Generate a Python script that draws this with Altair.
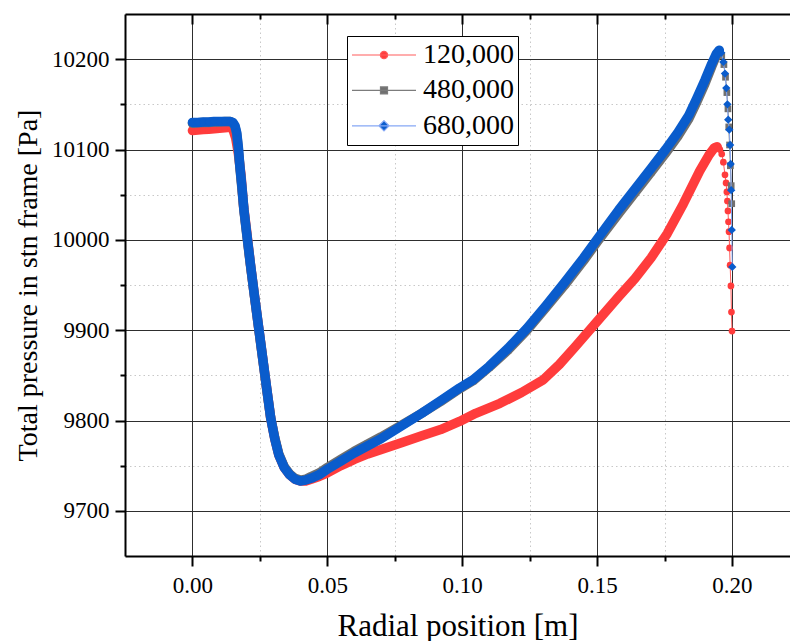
import altair as alt
import pandas as pd

# Series labels and styling
SERIES = ["120,000", "480,000", "680,000"]
MARKER_COLORS = ["#ff3c3c", "#707070", "#0a5ccc"]
LINE_COLORS = ["#ff5c5c", "#7c7c7c", "#86a8f5"]
MARKER_SHAPES = ["circle", "square", "diamond"]
MARKER_SIZES = [45, 45, 70]

# Axis tick values
X_MAJOR = [0.0, 0.05, 0.10, 0.15, 0.20]
X_MINOR = [0.025, 0.075, 0.125, 0.175]
Y_MAJOR = [9700, 9800, 9900, 10000, 10100, 10200]
Y_MINOR = [9750, 9850, 9950, 10050, 10150]

# 120,000 : radial profile up to the peak, then the drop at the wall
RED_X = [0.000, 0.002, 0.004, 0.006, 0.008, 0.010, 0.012, 0.0140,
         0.0150, 0.0160, 0.0170, 0.0180, 0.0190, 0.0200,
         0.0215, 0.0230, 0.0245, 0.0260, 0.0275, 0.0290, 0.0305, 0.0320,
         0.0340, 0.0360, 0.0380, 0.0400, 0.0420, 0.0440, 0.0470, 0.0500,
         0.0550, 0.0600, 0.0650, 0.0700, 0.0780, 0.0850, 0.0920, 0.0990,
         0.1050, 0.1140, 0.1220, 0.1300, 0.1360, 0.1420, 0.1510, 0.1580,
         0.1640, 0.1700, 0.1760, 0.1820, 0.1880, 0.1915, 0.1935, 0.1945]
RED_P = [10121, 10121.5, 10122, 10122.5, 10123, 10123.5, 10124, 10124.5,
         10122, 10113, 10096, 10072, 10036, 10012,
         9973, 9938, 9904, 9870, 9836, 9803, 9780, 9762,
         9748, 9740, 9735, 9733, 9733, 9735, 9738, 9742,
         9750, 9757, 9763, 9768, 9776, 9783, 9790, 9799,
         9808, 9819, 9831, 9845, 9862, 9882, 9913, 9937,
         9957, 9980, 10007, 10040, 10076, 10094, 10102, 10103]
RED_TIP_X = [0.1955, 0.1962, 0.1968, 0.1974, 0.1978, 0.1981, 0.1983, 0.1985,
             0.1987, 0.1989, 0.1991, 0.1993, 0.1996, 0.1998, 0.2000]
RED_TIP_P = [10100, 10095, 10086, 10072, 10063, 10053, 10043, 10032,
             10020, 10009, 9991, 9972, 9949, 9920, 9899]

# 480,000
GRAY_X = [0.000, 0.002, 0.004, 0.006, 0.008, 0.010, 0.012, 0.0140,
          0.0150, 0.0158, 0.0164, 0.0170, 0.0176, 0.0183, 0.0191, 0.0200,
          0.0215, 0.0230, 0.0245, 0.0260, 0.0275, 0.0290, 0.0305, 0.0320,
          0.0340, 0.0360, 0.0380, 0.0400, 0.0420, 0.0440, 0.0470, 0.0500,
          0.0550, 0.0600, 0.0650, 0.0700, 0.0770, 0.0850, 0.0920, 0.0990,
          0.1040, 0.1100, 0.1170, 0.1240, 0.1310, 0.1380, 0.1450, 0.1511,
          0.1580, 0.1640, 0.1700, 0.1754, 0.1800, 0.1840, 0.1870, 0.1900,
          0.1925, 0.1942, 0.1953]
GRAY_P = [10129, 10129.5, 10130, 10130, 10130.5, 10130.5, 10131, 10131,
          10129, 10125, 10117, 10101, 10080, 10058, 10032, 10009,
          9972, 9937, 9903, 9869, 9835, 9803, 9781, 9763,
          9749, 9741, 9736, 9734, 9735, 9738, 9742, 9748,
          9757, 9766, 9774, 9782, 9794, 9808, 9821, 9835,
          9844, 9859, 9878, 9900, 9925, 9950, 9977, 10002,
          10029, 10052, 10075, 10096, 10115, 10134, 10153, 10173,
          10192, 10204, 10208]
GRAY_TIP_X = [0.1962, 0.1970, 0.1976, 0.1981, 0.1985, 0.1988, 0.1991, 0.1994, 0.1997, 0.1999]
GRAY_TIP_P = [10204, 10194, 10180, 10163, 10145, 10125, 10105, 10082, 10060, 10040]

# 680,000
BLUE_X = [0.000, 0.002, 0.004, 0.006, 0.008, 0.010, 0.012, 0.0140,
          0.0150, 0.0158, 0.0164, 0.0170, 0.0176, 0.0183, 0.0191, 0.0200,
          0.0215, 0.0230, 0.0245, 0.0260, 0.0275, 0.0290, 0.0305, 0.0320,
          0.0340, 0.0360, 0.0380, 0.0400, 0.0420, 0.0440, 0.0470, 0.0500,
          0.0550, 0.0600, 0.0650, 0.0700, 0.0770, 0.0850, 0.0920, 0.0990,
          0.1040, 0.1100, 0.1170, 0.1240, 0.1310, 0.1380, 0.1450, 0.1511,
          0.1580, 0.1640, 0.1700, 0.1754, 0.1800, 0.1840, 0.1870, 0.1900,
          0.1925, 0.1942, 0.1953]
BLUE_P = [10130, 10130, 10130.5, 10130.5, 10131, 10131, 10131, 10131,
          10130, 10126, 10119, 10103, 10081, 10060, 10033, 10010,
          9973, 9938, 9904, 9870, 9836, 9803, 9780, 9762,
          9748, 9740, 9735, 9733, 9734, 9736, 9740, 9746,
          9755, 9764, 9772, 9780, 9793, 9808, 9822, 9836,
          9845, 9860, 9880, 9902, 9927, 9953, 9980, 10005,
          10033, 10056, 10079, 10100, 10119, 10138, 10157, 10177,
          10195, 10206, 10210]
BLUE_TIP_X = [0.1960, 0.1968, 0.1974, 0.1979, 0.1983, 0.1986, 0.1990, 0.1993,
              0.1995, 0.1997, 0.1999, 0.2001]
BLUE_TIP_P = [10207, 10197, 10184, 10168, 10150, 10133, 10122, 10105,
              10084, 10055, 10011, 9970]

PROFILES = [(RED_X, RED_P, RED_TIP_X, RED_TIP_P),
            (GRAY_X, GRAY_P, GRAY_TIP_X, GRAY_TIP_P),
            (BLUE_X, BLUE_P, BLUE_TIP_X, BLUE_TIP_P)]

rows = []
for name, (px, pp, tx, tp) in zip(SERIES, PROFILES):
    rows += [{"series": name, "part": "profile", "x": a, "p": b} for a, b in zip(px, pp)]
    rows += [{"series": name, "part": "tip", "x": a, "p": b} for a, b in zip(tx, tp)]
df = pd.DataFrame(rows)

FONT = "Liberation Serif"
W, H = 665, 542

x_scale = alt.Scale(domain=[-0.025, 0.2215], nice=False, zero=False)
y_scale = alt.Scale(domain=[9650, 10250], nice=False, zero=False)

# Axes: majors with solid grid, minors with dotted grid, top edge with inward ticks
ax_bottom = alt.Axis(orient="bottom", values=X_MAJOR, format=".2f", title="Radial position [m]",
                     grid=True, gridColor="#2e2e2e", gridWidth=1, gridOpacity=1,
                     domain=True, domainColor="black", domainWidth=2,
                     ticks=True, tickSize=10, tickWidth=2, tickColor="black",
                     labelFont=FONT, labelFontSize=23, labelColor="black", labelPadding=8,
                     labelFlush=False, labelOverlap=False,
                     titleFont=FONT, titleFontSize=31, titleFontWeight="normal",
                     titleColor="black", titlePadding=14)
ax_bottom_minor = alt.Axis(orient="bottom", values=X_MINOR, labels=False, title=None,
                           grid=True, gridColor="#c8c8c8", gridDash=[1.5, 3], gridWidth=1,
                           domain=False, ticks=True, tickSize=5, tickWidth=2, tickColor="black")
ax_top = alt.Axis(orient="bottom", offset=-H, values=X_MAJOR, labels=False, title=None,
                  grid=False, domain=True, domainColor="black", domainWidth=2,
                  ticks=True, tickSize=10, tickWidth=2, tickColor="black")
ax_top_minor = alt.Axis(orient="bottom", offset=-H, values=X_MINOR, labels=False, title=None,
                        grid=False, domain=False, ticks=True, tickSize=5, tickWidth=2,
                        tickColor="black")
ax_left = alt.Axis(orient="left", values=Y_MAJOR, format="d",
                   title="Total pressure in stn frame [Pa]",
                   grid=True, gridColor="#2e2e2e", gridWidth=1, gridOpacity=1,
                   domain=True, domainColor="black", domainWidth=2,
                   ticks=True, tickSize=10, tickWidth=2, tickColor="black",
                   labelFont=FONT, labelFontSize=23, labelColor="black", labelPadding=6,
                   labelOverlap=False,
                   titleFont=FONT, titleFontSize=28, titleFontWeight="normal",
                   titleColor="black", titlePadding=9)
ax_left_minor = alt.Axis(orient="left", values=Y_MINOR, labels=False, title=None,
                         grid=True, gridColor="#c8c8c8", gridDash=[1.5, 3], gridWidth=1,
                         domain=False, ticks=True, tickSize=5, tickWidth=2, tickColor="black")

# Legend symbols: a short line with the series marker in its middle
LINE_PATH = "M-1,0H1"
SYMBOL_PATHS = [
    LINE_PATH + "M0.115,0A0.115,0.115,0,1,1,-0.115,0A0.115,0.115,0,1,1,0.115,0Z",
    LINE_PATH + "M-0.11,-0.11H0.11V0.11H-0.11Z",
    LINE_PATH + "M0,-0.16L0.16,0L0,0.16L-0.16,0Z",
]
sym_expr = (f"datum.value === '{SERIES[0]}' ? '{SYMBOL_PATHS[0]}' : "
            f"datum.value === '{SERIES[1]}' ? '{SYMBOL_PATHS[1]}' : '{SYMBOL_PATHS[2]}'")
stroke_expr = (f"datum.value === '{SERIES[0]}' ? '{LINE_COLORS[0]}' : "
               f"datum.value === '{SERIES[1]}' ? '{LINE_COLORS[1]}' : '{LINE_COLORS[2]}'")

legend = alt.Legend(title=None, orient="none", legendX=222, legendY=22,
                    symbolType=alt.ExprRef(expr=sym_expr),
                    symbolStrokeColor=alt.ExprRef(expr=stroke_expr),
                    symbolSize=4096, symbolStrokeWidth=1.2, symbolOpacity=1,
                    labelFont=FONT, labelFontSize=28, labelColor="black",
                    labelOffset=6, labelLimit=0, padding=4, rowPadding=5.4, clipHeight=30,
                    strokeColor="black", fillColor="white", cornerRadius=0)

color = alt.Color("series:N", scale=alt.Scale(domain=SERIES, range=MARKER_COLORS), legend=legend)

base = alt.Chart(df)
axis_plan = [
    # (line x-axis, line y-axis, band x-axis, band y-axis, points x-axis)
    (ax_bottom, ax_left, ax_bottom_minor, ax_left_minor, ax_top),
    (ax_top_minor, None, None, None, None),
    (None, None, None, None, None),
]

layers = []
for i, name in enumerate(SERIES):
    lx, ly, bx, by, px = axis_plan[i]
    sel = base.transform_filter(alt.datum.series == name)
    # thin connecting line underneath, thick profile band, then the markers on top
    line = sel.mark_line(strokeWidth=1, color=LINE_COLORS[i]).encode(
        x=alt.X("x:Q", scale=x_scale, axis=lx), y=alt.Y("p:Q", scale=y_scale, axis=ly))
    band = sel.transform_filter(alt.datum.part == "profile").mark_line(
        strokeWidth=9.5, strokeCap="round", strokeJoin="round", color=MARKER_COLORS[i]
    ).encode(x=alt.X("x:Q", scale=x_scale, axis=bx), y=alt.Y("p:Q", scale=y_scale, axis=by))
    pts = sel.mark_point(filled=True, shape=MARKER_SHAPES[i], size=MARKER_SIZES[i], opacity=1).encode(
        x=alt.X("x:Q", scale=x_scale, axis=px), y=alt.Y("p:Q", scale=y_scale, axis=None),
        color=color)
    layers += [line, band, pts]

chart = alt.layer(*layers).resolve_axis(
    x="independent", y="independent"
).properties(
    width=W, height=H,
    padding={"left": 125, "top": 14, "right": 0, "bottom": 85},
    autosize=alt.AutoSizeParams(type="none"),
).configure_view(stroke=None).configure_legend(strokeWidth=1.2).configure(font=FONT)

chart.save("out.html", embed_options={"renderer": "svg", "actions": False})
